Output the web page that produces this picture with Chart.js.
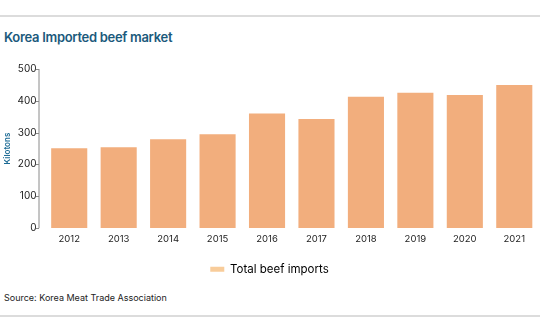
<!DOCTYPE html>
<html>
<head>
<meta charset="utf-8">
<script src="https://cdn.jsdelivr.net/npm/chart.js@4/dist/chart.umd.min.js"></script>
<style>
    html, body { margin: 0; padding: 0; background: #fff; }
    body { width: 540px; height: 334px; position: relative; overflow: hidden; font-family: Inter, "Noto Sans", sans-serif; }
    .rule { position: absolute; left: 0; width: 540px; height: 2px; background: #dcdcdc; }
    #title { position: absolute; left: 4px; top: 29px; font-size: 13px; font-weight: 600; color: #1b5a7c; letter-spacing: -0.3px; }
    #source { position: absolute; left: 4px; top: 292px; font-size: 9px; color: #222; }
    #wrap { position: absolute; left: 0; top: 55px; width: 540px; height: 230px; }
</style>
</head>
<body>
<div class="rule" style="top:15px"></div>
<div id="title">Korea Imported beef market</div>
<div id="wrap"><canvas id="chart"></canvas></div>
<div id="source">Source: Korea Meat Trade Association</div>
<div class="rule" style="top:315px"></div>

<script>
// 資料
const years = ['2012', '2013', '2014', '2015', '2016', '2017', '2018', '2019', '2020', '2021'];
const imports = [251, 254, 279, 295, 360, 343, 413, 425, 418, 450];
const yTicks = [0, 100, 200, 300, 400, 500];
const seriesName = 'Total beef imports';
const axisTitle = 'Kilotons';

// 左側軸線 (畫在 chartArea 左邊一點)
const axisLine = {
    id: 'axisLine',
    afterDraw(chart) {
        const ctx = chart.ctx;
        const y = chart.scales.y;
        const x0 = chart.chartArea.left - 5.5;
        ctx.save();
        ctx.strokeStyle = '#8a8a8a';
        ctx.lineWidth = 1;
        ctx.beginPath();
        ctx.moveTo(x0, y.getPixelForValue(500));
        ctx.lineTo(x0, y.getPixelForValue(0));
        yTicks.forEach(v => {
            const py = Math.round(y.getPixelForValue(v)) + 0.5;
            ctx.moveTo(x0 - 3, py);
            ctx.lineTo(x0, py);
        });
        ctx.stroke();
        ctx.restore();
    }
};

new Chart(document.getElementById('chart'), {
    type: 'bar',
    data: {
        labels: years,
        datasets: [{
            label: seriesName,
            data: imports,
            backgroundColor: '#f2ae7d',
            borderWidth: 0,
            barPercentage: 0.73,
            categoryPercentage: 1
        }]
    },
    options: {
        responsive: true,
        maintainAspectRatio: false,
        animation: false,
        layout: { padding: { top: 14, right: 1, left: 0, bottom: 0 } },
        plugins: {
            legend: {
                position: 'bottom',
                labels: {
                    boxWidth: 14,
                    boxHeight: 5,
                    padding: 13,
                    color: '#333',
                    font: { family: 'Inter', size: 11.5 },
                    generateLabels: chart => [{
                        text: seriesName,
                        fillStyle: '#f8cc9a',
                        strokeStyle: '#f8cc9a',
                        lineWidth: 0,
                        datasetIndex: 0
                    }]
                }
            },
            tooltip: { enabled: false }
        },
        scales: {
            x: {
                grid: { display: false, drawTicks: false },
                border: { display: false },
                ticks: { color: '#222', font: { family: 'Inter', size: 9.5 }, padding: 5.5, maxRotation: 0 }
            },
            y: {
                min: 0,
                max: 500,
                afterFit: s => { s.width = 44.5; },
                afterBuildTicks: s => { s.ticks = yTicks.map(v => ({ value: v })); },
                grid: { display: false, drawTicks: false },
                border: { display: false },
                ticks: { color: '#222', font: { family: 'Inter', size: 10 }, padding: 8 },
                title: {
                    display: true,
                    text: axisTitle,
                    color: '#1b6a94',
                    font: { family: 'Inter', size: 8, weight: '600' },
                    padding: { top: 3, bottom: 0 }
                }
            }
        }
    },
    plugins: [axisLine]
});
</script>
</body>
</html>
